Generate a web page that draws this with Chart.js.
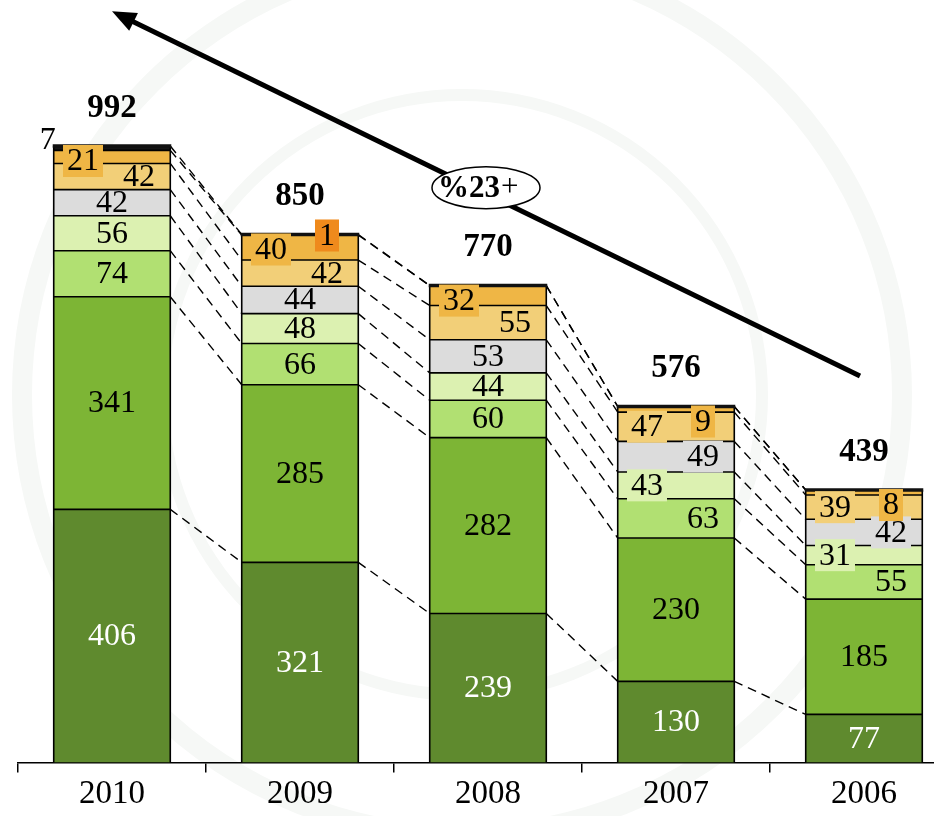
<!DOCTYPE html>
<html>
<head>
<meta charset="utf-8">
<script src="https://cdn.jsdelivr.net/npm/chart.js@4.4.1/dist/chart.umd.min.js"></script>
<style>
  html, body { margin: 0; padding: 0; background: #fff; overflow: hidden; }
  #wrap { width: 958px; height: 816px; position: relative; }
</style>
</head>
<body>
<div id="wrap"><canvas id="chart"></canvas></div>
<script>
'use strict';

/* ── DATA ─────────────────────────── */
const years       = ['2010', '2009', '2008', '2007', '2006'];
const totals      = [992, 850, 770, 576, 439];
const darkGreen   = [406, 321, 239, 130, 77];
const green       = [341, 285, 282, 230, 185];
const lightGreen  = [74, 66, 60, 63, 55];
const paleGreen   = [56, 48, 44, 43, 31];
const grey        = [42, 44, 53, 49, 42];
const lightOrange = [42, 42, 55, 47, 39];
const orange      = [21, 40, 32, 9, 8];
const darkOrange  = [null, 1, null, null, null];
const topBlack    = [7, null, null, null, null];
const growthText  = '%23';

/* ── SERIES STYLE ─────────────────────────── */
// place: c/l/r = horizontal spot, b = boxed label, t/T = pinned to stack top, o = outside
const series = [
  { data: darkGreen,   color: '#5f8a2e', text: '#fff', place: ['c', 'c', 'c', 'c', 'c'] },
  { data: green,       color: '#7db535', text: '#000', place: ['c', 'c', 'c', 'c', 'c'] },
  { data: lightGreen,  color: '#b1e072', text: '#000', place: ['c', 'c', 'c', 'r', 'r'] },
  { data: paleGreen,   color: '#dcf1b1', text: '#000', place: ['c', 'c', 'c', 'lb', 'lb'] },
  { data: grey,        color: '#dcdcdc', text: '#000', place: ['c', 'c', 'c', 'rb', 'rb'] },
  { data: lightOrange, color: '#f2cf78', text: '#000', place: ['r', 'r', 'r', 'lb', 'lb'] },
  { data: orange,      color: '#efb645', text: '#000', place: ['lbt', 'lbt', 'lbt', 'rbt', 'rbt'] },
  { data: darkOrange,  color: '#ef8a1c', text: '#000', place: ['', 'rbT', '', '', ''] },
  { data: topBlack,    color: '#151515', text: '#000', place: ['o', '', '', '', ''] },
];

const serif = '"Liberation Serif", "Times New Roman", serif';
Chart.defaults.font.family = serif;
Chart.defaults.color = '#000';

/* ── DRAWING HELPERS ─────────────────────────── */
function stackTop(chart, i) {
  let top = Infinity;
  series.forEach((s, d) => {
    if (s.data[i] == null) return;
    top = Math.min(top, chart.getDatasetMeta(d).data[i].y);
  });
  return top;
}

function label(ctx, text, x, y, color, box, align) {
  ctx.font = '32px ' + serif;
  ctx.textAlign = align || 'center';
  ctx.textBaseline = 'middle';
  if (box) {
    const w = ctx.measureText(text).width + 8;
    ctx.fillStyle = box;
    ctx.fillRect(x - w / 2, y - 16, w, 32);
  }
  ctx.fillStyle = color;
  ctx.fillText(text, x, y + 1);
}

const decor = {
  id: 'decor',
  beforeDraw(chart) {
    // faint watermark rings
    const ctx = chart.ctx;
    ctx.save();
    ctx.strokeStyle = '#f6f8f6';
    ctx.lineWidth = 20;
    ctx.beginPath(); ctx.arc(462, 395, 440, 0, Math.PI * 2); ctx.stroke();
    ctx.lineWidth = 12;
    ctx.beginPath(); ctx.arc(462, 395, 300, 0, Math.PI * 2); ctx.stroke();
    ctx.restore();
  },
  beforeDatasetsDraw(chart) {
    // dashed connectors between matching segment tops
    const ctx = chart.ctx;
    ctx.save();
    ctx.strokeStyle = '#000';
    ctx.lineWidth = 1.4;
    ctx.setLineDash([9, 6]);
    const bounds = years.map((_, i) => {
      const ys = [];
      for (let d = 0; d < 7; d++) ys.push(chart.getDatasetMeta(d).data[i].y);
      ys.push(stackTop(chart, i));
      return ys;
    });
    for (let i = 0; i < years.length - 1; i++) {
      const a = chart.getDatasetMeta(0).data[i];
      const b = chart.getDatasetMeta(0).data[i + 1];
      bounds[i].forEach((y, k) => {
        ctx.beginPath();
        ctx.moveTo(a.x + a.width / 2, y);
        ctx.lineTo(b.x - b.width / 2, bounds[i + 1][k]);
        ctx.stroke();
      });
    }
    ctx.restore();
  },
  afterDatasetsDraw(chart) {
    const ctx = chart.ctx;
    ctx.save();

    // segment outlines: one crisp line per boundary, plus sides and a heavy top
    years.forEach((_, i) => {
      const el = chart.getDatasetMeta(0).data[i];
      const left = el.x - el.width / 2, right = el.x + el.width / 2;
      const top = stackTop(chart, i);
      ctx.strokeStyle = '#000';
      ctx.lineWidth = 1.6;
      series.forEach((s, d) => {
        if (s.data[i] == null) return;
        const y = chart.getDatasetMeta(d).data[i].y;
        ctx.beginPath();
        ctx.moveTo(left, y);
        ctx.lineTo(right, y);
        ctx.stroke();
      });
      ctx.beginPath();
      ctx.moveTo(left, el.base);
      ctx.lineTo(left, top);
      ctx.moveTo(right, el.base);
      ctx.lineTo(right, top);
      ctx.stroke();
      ctx.strokeStyle = '#111';
      ctx.lineWidth = 3.5;
      ctx.beginPath();
      ctx.moveTo(left - 1, top);
      ctx.lineTo(right + 1, top);
      ctx.stroke();
    });

    // segment value labels
    series.forEach((s, d) => {
      const meta = chart.getDatasetMeta(d);
      s.data.forEach((v, i) => {
        const p = s.place[i];
        if (v == null || !p) return;
        const el = meta.data[i];
        const top = stackTop(chart, i);
        if (p === 'o') {
          label(ctx, String(v), el.x - el.width / 2 + 2, top - 6, '#000', null, 'right');
          return;
        }
        let x = el.x;
        if (p[0] === 'l') x -= 29;
        if (p[0] === 'r') x += 27;
        let y = (el.y + el.base) / 2;
        if (p.includes('t')) y = top + 15;
        if (p.includes('T')) y = top + 1;
        label(ctx, String(v), x, y, s.text, p.includes('b') ? s.color : null);
      });
    });

    // totals above the stacks
    ctx.fillStyle = '#000';
    ctx.font = 'bold 33px ' + serif;
    ctx.textAlign = 'center';
    ctx.textBaseline = 'middle';
    totals.forEach((t, i) => {
      const el = chart.getDatasetMeta(0).data[i];
      ctx.fillText(String(t), el.x, stackTop(chart, i) - 38);
    });

    // trend arrow with growth badge
    const xs = chart.scales.x, ys = chart.scales.y;
    const x0 = xs.getPixelForValue(4) - 4, y0 = ys.getPixelForValue(620);
    const x1 = xs.getPixelForValue(0), y1 = ys.getPixelForValue(1205);
    const ang = Math.atan2(y1 - y0, x1 - x0);
    ctx.strokeStyle = '#000';
    ctx.lineWidth = 5;
    ctx.beginPath();
    ctx.moveTo(x0, y0);
    ctx.lineTo(x1 - 18 * Math.cos(ang), y1 - 18 * Math.sin(ang));
    ctx.stroke();
    ctx.fillStyle = '#000';
    ctx.beginPath();
    ctx.moveTo(x1, y1);
    ctx.lineTo(x1 - 24 * Math.cos(ang) + 10 * Math.sin(ang), y1 - 24 * Math.sin(ang) - 10 * Math.cos(ang));
    ctx.lineTo(x1 - 24 * Math.cos(ang) - 10 * Math.sin(ang), y1 - 24 * Math.sin(ang) + 10 * Math.cos(ang));
    ctx.closePath();
    ctx.fill();

    const cx = x0 + (x1 - x0) * 0.5, cy = y0 + (y1 - y0) * 0.5 - 6;
    ctx.fillStyle = '#fff';
    ctx.lineWidth = 1.5;
    ctx.beginPath();
    ctx.ellipse(cx, cy, 54, 21, 0, 0, Math.PI * 2);
    ctx.fill();
    ctx.stroke();
    ctx.fillStyle = '#000';
    ctx.font = 'bold 31px ' + serif;
    ctx.textAlign = 'right';
    ctx.fillText(growthText, cx + 14, cy + 1);
    ctx.font = '31px ' + serif;
    ctx.textAlign = 'left';
    ctx.fillText('+', cx + 15, cy);

    ctx.restore();
  },
};

/* ── CHART ─────────────────────────── */
new Chart(document.getElementById('chart'), {
  type: 'bar',
  data: {
    labels: years,
    datasets: series.map(s => ({
      data:            s.data,
      backgroundColor: s.color,
      borderWidth:     0,
      categoryPercentage: 1,
      barPercentage:   0.62,
    })),
  },
  options: {
    responsive: true,
    maintainAspectRatio: false,
    animation: false,
    layout: { padding: { left: 18, right: 0, top: 2, bottom: 0 } },
    plugins: {
      legend:  { display: false },
      tooltip: { enabled: false },
    },
    scales: {
      x: {
        stacked: true,
        grid: { drawOnChartArea: false, drawTicks: true, tickLength: 10, color: '#000', lineWidth: 1.5 },
        border: { display: true, color: '#000', width: 1.5 },
        ticks: { color: '#000', font: { size: 33 }, padding: 2 },
      },
      y: { stacked: true, display: false, min: 0, max: 1220 },
    },
  },
  plugins: [decor],
});
</script>
</body>
</html>
